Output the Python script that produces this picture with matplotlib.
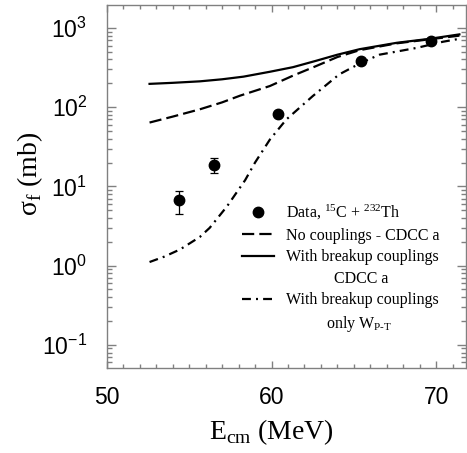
import numpy as np
import matplotlib.pyplot as plt
from matplotlib.lines import Line2D
from matplotlib.ticker import MultipleLocator, LogLocator, FuncFormatter, NullFormatter

plt.rcParams['mathtext.fontset'] = 'custom'
plt.rcParams['mathtext.rm'] = 'Liberation Serif'
plt.rcParams['axes.unicode_minus'] = False

# measured fission cross sections, 15C + 232Th
e_data = [54.4, 56.5, 60.4, 65.4, 69.7]
sig_data = [6.7, 18.9, 83, 380, 682]
err_lo = [2.2, 4.3, 6, 25, 40]
err_hi = [2.1, 4.1, 6, 25, 40]

# no couplings - CDCC a
e_nocoup = [52.6, 54.0, 55.65, 57.0, 58.1, 59.9, 61.3, 62.7, 64.0, 65.35, 67.6, 69.6, 71.4]
sig_nocoup = [64, 76, 94, 115, 140, 185, 250, 330, 430, 525, 640, 720, 800]

# with breakup couplings - CDCC a
e_cdcc = [52.6, 54.0, 55.65, 57.0, 58.3, 59.9, 61.3, 62.7, 64.0, 65.35, 67.6, 69.6, 71.4]
sig_cdcc = [197, 203, 212, 225, 243, 280, 320, 385, 460, 540, 650, 730, 830]

# with breakup couplings - only W_P-T
e_wpt = [52.6, 53.5, 54.45, 55.65, 56.25, 57.3, 58.4, 59.0, 59.9, 60.9,
         62.5, 64.1, 65.4, 66.55, 68.8, 70.4, 71.4]
sig_wpt = [1.11, 1.3, 1.6, 2.3, 3.0, 5.6, 12, 20, 39, 70,
           138, 259, 360, 460, 560, 670, 730]

fig = plt.figure(figsize=(4.67, 4.53), dpi=100)
ax = fig.add_axes([106.7 / 467, 1 - 368 / 453, 359.3 / 467, 363 / 453])

lw = 1.6
ax.plot(e_nocoup, sig_nocoup, color='k', lw=lw, dashes=(5.5, 2.3))
ax.plot(e_cdcc, sig_cdcc, color='k', lw=lw)
ax.plot(e_wpt, sig_wpt, color='k', lw=lw, dashes=(4, 2.3, 0.9, 2.3))
ax.errorbar(e_data, sig_data, yerr=[err_lo, err_hi], fmt='o', color='k',
            ms=7.5, elinewidth=0.9, capsize=3, capthick=0.9)

ax.set_yscale('log')
ax.set_xlim(50, 71.8)
ax.set_ylim(0.051, 1950)

ax.xaxis.set_major_locator(MultipleLocator(10))
ax.xaxis.set_minor_locator(MultipleLocator(1))
ax.yaxis.set_major_locator(LogLocator(base=10, numticks=10))
ax.yaxis.set_minor_locator(LogLocator(base=10, subs=np.arange(2, 10), numticks=20))
ax.yaxis.set_minor_formatter(NullFormatter())
ax.yaxis.set_major_formatter(FuncFormatter(
    lambda v, p: r'$\mathregular{10^{%d}}$' % int(round(np.log10(v)))))

tick_col = '#808080'
for s in ax.spines.values():
    s.set_color(tick_col)
    s.set_linewidth(1.0)
ax.tick_params(which='both', direction='in', top=True, right=True,
               color=tick_col, width=1.0, labelsize=16.5)
ax.tick_params(axis='x', which='major', length=5, pad=13)
ax.tick_params(axis='x', which='minor', length=3)
ax.tick_params(axis='y', which='major', length=6.5, pad=14)
ax.tick_params(axis='y', which='minor', length=3.5)
for lab in ax.get_xticklabels() + ax.get_yticklabels():
    lab.set_fontfamily('Liberation Sans')

# legend, two-line entries get a second row without a handle
blank = Line2D([], [], color='none')
handles = [Line2D([], [], marker='o', ls='none', color='k', ms=7.5),
           Line2D([], [], color='k', lw=lw, dashes=(5.5, 2.3)),
           Line2D([], [], color='k', lw=lw),
           blank,
           Line2D([], [], color='k', lw=lw, dashes=(4, 2.3, 0.9, 2.3)),
           blank]
labels = [r'Data, $\mathregular{^{15}}$C + $\mathregular{^{232}}$Th',
          'No couplings - CDCC a',
          'With breakup couplings',
          '            CDCC a',
          'With breakup couplings',
          r'          only W$_{\mathregular{P}\text{-}\mathregular{T}}$']
ax.legend(handles, labels, loc='upper left', bbox_to_anchor=(0.3766, 0.4545),
          frameon=False, borderpad=0, borderaxespad=0, handlelength=2.0,
          handletextpad=0.75, labelspacing=0.35,
          prop={'family': 'Liberation Serif', 'size': 11.5})

fig.text(30 / 467, 1 - 174 / 453, r'σ$_\mathregular{f}$ (mb)', rotation=90,
         ha='center', va='center', fontsize=20, family='Liberation Serif')
fig.text(271 / 467, 1 - 432 / 453, r'E$_\mathregular{cm}$ (MeV)',
         ha='center', va='center', fontsize=20, family='Liberation Serif')

fig.savefig('out.png', dpi=100)
